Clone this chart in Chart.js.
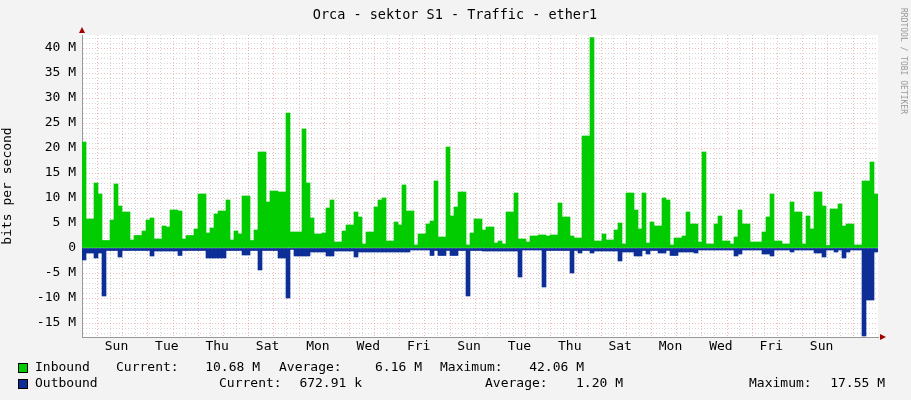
<!DOCTYPE html>
<html>
<head>
<meta charset="utf-8">
<script src="https://cdn.jsdelivr.net/npm/chart.js@4.4.0/dist/chart.umd.min.js"></script>
<style>
  body { margin: 0; background: #f3f3f3; }
  #wrap { width: 911px; height: 400px; position: relative; }
</style>
</head>
<body>
<div id="wrap"><canvas id="trafficChart" width="911" height="400"></canvas></div>
<script>
// one bar per 4 px step, values in M bits/s
var inbound = [21.2, 5.8, 5.8, 13, 10.8, 1.5, 1.5, 5.6, 12.8, 8.4, 7.2, 7.2, 1.6, 2.5, 2.5, 3.4, 5.6, 6, 1.8, 1.8,
  4.4, 4.2, 7.6, 7.6, 7.4, 1.8, 2.5, 2.5, 3.8, 10.8, 10.8, 3, 4, 6.8, 7.4, 7.4, 9.6, 1.6, 3.4, 2.8,
  10.4, 10.4, 1.5, 3.6, 19.2, 19.2, 9.2, 11.4, 11.4, 11.2, 11.2, 27, 3.2, 3.2, 3.2, 23.8, 13, 6, 2.8, 2.8,
  3, 8, 9.6, 1.2, 1.2, 3.4, 4.6, 4.6, 7.2, 6.2, 0.8, 3.2, 3.2, 8.2, 9.6, 10, 1.4, 1.4, 5.2, 4.6,
  12.6, 7.4, 7.4, 0.6, 2.8, 2.8, 4.8, 5.4, 13.4, 2.2, 2.2, 20.2, 6.4, 8.2, 11.2, 11.2, 0.6, 3, 5.8, 5.8,
  3.6, 4.2, 4.2, 1, 1.4, 0.8, 7.2, 7.2, 11, 1.8, 1.8, 1.2, 2.4, 2.4, 2.6, 2.6, 2.4, 2.6, 2.6, 9,
  6.2, 6.2, 2.4, 2, 2, 22.4, 22.4, 42.06, 1.4, 1.4, 2.8, 1.6, 1.6, 3.6, 5, 0.8, 11, 11, 7.6, 3.8,
  11, 1, 5.2, 4.4, 4.4, 10, 9.6, 0.6, 2, 2, 2.4, 7.2, 4.8, 4.8, 1.2, 19.2, 0.8, 0.8, 4.8, 6.4,
  1.4, 1.4, 0.8, 2.2, 7.6, 4.8, 4.8, 1.2, 1.2, 1.2, 3.2, 6.2, 10.8, 1.4, 1.4, 0.8, 0.8, 9.2, 7.2, 7.2,
  0.8, 6.4, 3.8, 11.2, 11.2, 8.4, 0.5, 7.8, 7.8, 8.8, 4.4, 4.8, 4.8, 0.6, 0.6, 13.4, 13.4, 17.2, 10.8];
var outbound = [-2.4, -1, -1, -2, -1, -9.6, -0.5, -0.5, -0.5, -1.8, -0.5, -0.5, -0.5, -0.5, -0.5, -0.5, -0.5, -1.6, -0.6, -0.6,
  -0.6, -0.6, -0.6, -0.6, -1.5, -0.5, -0.5, -0.5, -0.5, -0.5, -0.5, -2, -2, -2, -2, -2, -0.5, -0.5, -0.5, -0.5,
  -1.4, -1.4, -0.5, -0.5, -4.4, -0.5, -0.5, -0.5, -0.5, -2, -2, -10, -0.3, -1.6, -1.6, -1.6, -1.6, -0.8, -0.8, -0.8,
  -0.8, -1.6, -1.6, -0.6, -0.6, -0.6, -0.6, -0.6, -1.8, -0.8, -0.8, -0.8, -0.8, -0.8, -0.8, -0.8, -0.8, -0.8, -0.8, -0.8,
  -0.8, -0.8, -0.4, -0.4, -0.4, -0.4, -0.4, -1.5, -0.5, -1.5, -1.5, -0.5, -1.5, -1.5, -0.5, -0.5, -9.6, -0.5, -0.5, -0.5,
  -0.6, -0.6, -0.6, -0.6, -0.6, -0.6, -0.6, -0.6, -0.6, -5.8, -0.4, -0.4, -0.4, -0.4, -0.4, -7.8, -0.5, -0.5, -0.5, -0.5,
  -0.5, -0.5, -5, -0.5, -1, -0.5, -0.5, -1, -0.6, -0.6, -0.6, -0.6, -0.6, -0.6, -2.6, -0.8, -0.8, -0.8, -1.6, -1.6,
  -0.5, -1.2, -0.5, -0.5, -1, -1, -0.5, -1.5, -1.5, -0.8, -0.8, -0.8, -0.8, -1, -0.4, -0.4, -0.4, -0.4, -0.4, -0.4,
  -0.4, -0.4, -0.4, -1.6, -1.2, -0.4, -0.4, -0.4, -0.4, -0.4, -1.2, -1.2, -1.6, -0.4, -0.4, -0.4, -0.4, -0.8, -0.4, -0.4,
  -0.4, -0.4, -0.4, -1, -1, -1.8, -0.4, -0.4, -0.8, -0.4, -2, -0.8, -0.4, -0.4, -0.4, -17.6, -10.4, -10.4, -0.8];
var dayLabels = ['Sun', 'Tue', 'Thu', 'Sat', 'Mon', 'Wed', 'Fri', 'Sun', 'Tue', 'Thu', 'Sat', 'Mon', 'Wed', 'Fri', 'Sun'];
var legendRows = [
  ['Inbound', 'Current:', '10.68 M', 'Average:', '6.16 M', 'Maximum:', '42.06 M'],
  ['Outbound', 'Current:', '672.91 k', 'Average:', '1.20 M', 'Maximum:', '17.55 M']
];

var mono = 'DejaVu Sans Mono';
var pink = 'rgba(230, 130, 130, 0.55)';
var grey = 'rgba(170, 170, 170, 0.5)';
var cats = inbound.map(function (v, i) { return i; });

var decor = {
  id: 'decor',
  beforeDraw: function (chart) {
    var c = chart.ctx, a = chart.chartArea;
    c.save();
    c.fillStyle = '#f3f3f3';
    c.fillRect(0, 0, chart.width, chart.height);
    c.fillStyle = '#ffffff';
    c.fillRect(a.left, a.top, a.right - a.left, a.bottom - a.top);
    c.restore();
  },
  afterDraw: function (chart) {
    var c = chart.ctx, a = chart.chartArea;
    c.save();
    c.fillStyle = '#000';
    c.font = '13.5px "' + mono + '"';
    c.textAlign = 'center';
    c.textBaseline = 'middle';
    c.fillText('Orca - sektor S1 - Traffic - ether1', 455, 15);
    // axis arrows
    c.fillStyle = '#a00000';
    c.beginPath(); c.moveTo(a.left - 3, a.top - 2); c.lineTo(a.left + 3, a.top - 2); c.lineTo(a.left, a.top - 8); c.fill();
    c.beginPath(); c.moveTo(a.right + 2, a.bottom - 3); c.lineTo(a.right + 2, a.bottom + 3); c.lineTo(a.right + 8, a.bottom); c.fill();
    // vertical watermark
    c.fillStyle = '#999';
    c.font = '8px "' + mono + '"';
    c.translate(903, 8);
    c.rotate(Math.PI / 2);
    c.textAlign = 'left';
    c.fillText('RRDTOOL / TOBI OETIKER', 0, 0);
    c.restore();
    // legend
    c.save();
    c.font = '13px "' + mono + '"';
    c.textBaseline = 'middle';
    var rowsY = [368, 384];
    var colors = ['#00cc00', '#0c2e96'];
    // left edge for labels, right edge for numbers
    var xs = [[35, 116, 260, 279, 422, 440, 584], [35, 219, 362, 485, 623, 749, 885]];
    legendRows.forEach(function (row, r) {
      c.fillStyle = colors[r];
      c.fillRect(18, rowsY[r] - 5, 10, 10);
      c.strokeStyle = '#000';
      c.lineWidth = 1;
      c.strokeRect(18.5, rowsY[r] - 4.5, 9, 9);
      c.fillStyle = '#000';
      row.forEach(function (t, i) {
        var isNum = i === 2 || i === 4 || i === 6;
        c.textAlign = isNum ? 'right' : 'left';
        c.fillText(t, xs[r][i], rowsY[r]);
      });
    });
    c.restore();
  }
};

new Chart(document.getElementById('trafficChart').getContext('2d'), {
  type: 'bar',
  data: {
    labels: cats,
    datasets: [
      { label: 'Inbound', data: inbound, backgroundColor: '#00cc00', barPercentage: 1, categoryPercentage: 1, borderWidth: 0 },
      { label: 'Outbound', data: outbound, backgroundColor: '#0c2e96', barPercentage: 1, categoryPercentage: 1, borderWidth: 0 }
    ]
  },
  options: {
    responsive: false,
    animation: false,
    layout: { padding: { top: 35, right: 33, left: 0, bottom: 0 } },
    plugins: { legend: { display: false }, tooltip: { enabled: false }, title: { display: false } },
    scales: {
      x: {
        stacked: true,
        display: false
      },
      days: {
        type: 'linear',
        position: 'bottom',
        min: -0.61,
        max: 30.48,
        afterFit: function (s) { s.height = 63; },
        afterBuildTicks: function (s) {
          var t = [];
          for (var v = 0; v <= 30; v += 0.5) t.push({ value: v });
          s.ticks = t;
        },
        ticks: {
          autoSkip: false,
          maxRotation: 0,
          color: '#000',
          font: { family: mono, size: 13 },
          padding: 2,
          callback: function (v) {
            var k = (v - 0.5) / 2;
            return Number.isInteger(k) && dayLabels[k] ? dayLabels[k] : '';
          }
        },
        grid: {
          drawTicks: false,
          color: function (ctx) { return ctx.tick && Number.isInteger(ctx.tick.value) ? pink : grey; }
        },
        border: { color: '#999', dash: [1, 2] }
      },
      y: {
        stacked: true,
        min: -17.8,
        max: 42.6,
        afterFit: function (s) { s.width = 82; },
        afterBuildTicks: function (s) {
          var t = [];
          for (var v = -17; v <= 42; v++) t.push({ value: v });
          s.ticks = t;
        },
        ticks: {
          autoSkip: false,
          color: '#000',
          font: { family: mono, size: 13 },
          padding: 6,
          callback: function (v) {
            if (v % 5 !== 0) return '';
            return v === 0 ? '0' : v + ' M';
          }
        },
        grid: {
          drawTicks: false,
          color: function (ctx) { return ctx.tick && ctx.tick.value % 5 === 0 ? pink : grey; }
        },
        border: { color: '#999', dash: [1, 2] },
        title: { display: true, text: 'bits per second', color: '#000', font: { family: mono, size: 13 }, padding: 0 }
      }
    }
  },
  plugins: [decor]
});
</script>
</body>
</html>
